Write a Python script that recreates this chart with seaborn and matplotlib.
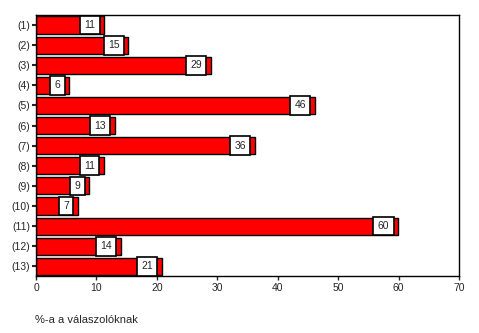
import matplotlib
matplotlib.use("Agg")
import matplotlib.pyplot as plt
import seaborn as sns
import pandas as pd

categories = ["(1)", "(2)", "(3)", "(4)", "(5)", "(6)", "(7)", "(8)", "(9)", "(10)", "(11)", "(12)", "(13)"]
values = [11.3, 15.3, 28.9, 5.5, 46.1, 13.0, 36.2, 11.2, 8.8, 6.9, 59.9, 14.0, 20.8]
labels = ["11", "15", "29", "6", "46", "13", "36", "11", "9", "7", "60", "14", "21"]
xticks = [0, 10, 20, 30, 40, 50, 60, 70]

sns.set_style("white")
plt.rcParams["font.family"] = ["Liberation Sans", "DejaVu Sans"]

df = pd.DataFrame({"cat": categories, "val": values})

fig = plt.figure(figsize=(4.79, 3.33), dpi=100)
ax = fig.add_axes([0.0752, 0.170, 0.883, 0.785])
sns.barplot(data=df, x="val", y="cat", orient="h", color="#ff0000", saturation=1,
            edgecolor="black", linewidth=1.0, width=0.85, ax=ax)

for i, (v, lab) in enumerate(zip(values, labels)):
    ax.text(v - 1.45, i, lab, ha="right", va="center", fontsize=7.5,
            bbox=dict(boxstyle="square,pad=0.42", facecolor="white", edgecolor="black", linewidth=1.2))

ax.set_xlim(0, 70)
ax.set_ylim(12.5, -0.5)
ax.set_xticks(xticks)
ax.set_xticklabels([str(t) for t in xticks], fontsize=7.5)
ax.tick_params(axis="y", labelsize=7.5, length=3, width=1.5, direction="out", left=True, pad=1)
ax.tick_params(axis="x", length=3, width=1, direction="out", bottom=True, pad=2)
ax.set_xlabel("")
ax.set_ylabel("")
for s in ax.spines.values():
    s.set_color("black")
    s.set_linewidth(1.0)

fig.text(35 / 479, 1 - 320 / 333, "%-a a válaszolóknak", fontsize=8, ha="left", va="center")

fig.savefig("out.png", dpi=100)
